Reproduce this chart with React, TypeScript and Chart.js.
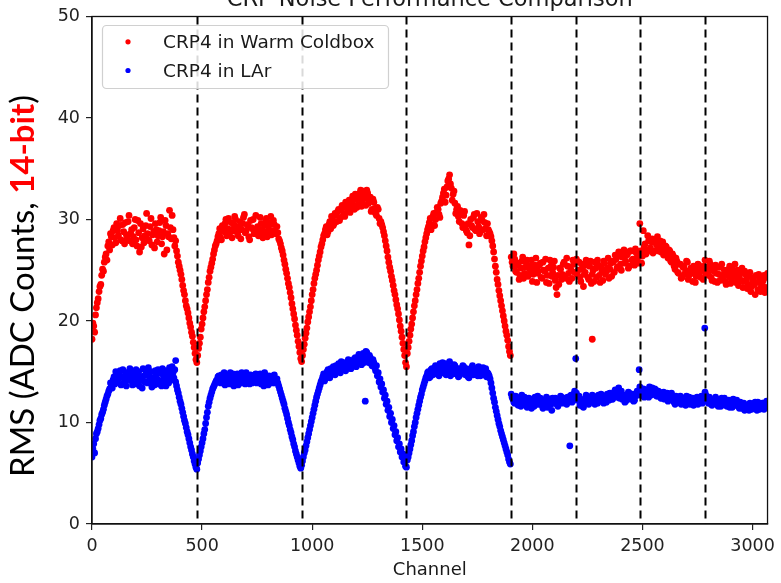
import React, { useEffect, useRef } from 'react';
import { Chart, registerables } from 'chart.js';

Chart.register(...registerables);

// ---- data ----
// readings are listed every 8 channels; "A" arrays start at the segment start,
// "B" arrays hold the readings offset by 4 channels
const CHANNEL_STEP = 8;
const CHANNEL_OFFSET_B = 4;
const segmentStarts = [0, 480, 952, 1432, 1904];

// CRP4 in Warm Coldbox (RMS, ADC counts)
const warmSeg1A = [18.2, 19.5, 20.6, 21.8, 22.9, 23.6, 25.1, 25.8, 26.6, 27.4, 27.0, 28.3, 28.9, 28.2, 29.6, 28.4, 30.1, 27.9, 28.8, 29.7, 28.1, 30.4, 28.6, 27.6, 29.2, 28.0, 29.9, 26.8, 27.3, 29.1, 28.4, 30.6, 28.0, 29.3, 27.5, 28.8, 29.6, 27.8, 28.9, 30.2, 28.3, 26.6, 29.4, 28.6, 30.9, 28.1, 29.0, 27.4, 26.9, 25.8, 25.0, 24.1, 23.0, 22.0, 21.2, 20.3, 19.4, 18.5, 17.4, 16.2];
const warmSeg1B = [19.8, 18.9, 21.3, 22.2, 23.4, 24.5, 24.9, 26.3, 26.0, 27.8, 28.6, 27.5, 29.2, 27.7, 28.9, 29.4, 28.0, 29.5, 27.6, 28.5, 29.8, 27.9, 29.0, 28.3, 30.0, 27.4, 28.7, 29.6, 28.2, 27.7, 29.4, 28.6, 27.9, 30.1, 28.5, 27.2, 29.0, 28.4, 29.7, 27.6, 28.8, 29.9, 27.0, 28.3, 29.2, 30.4, 28.2, 27.9, 26.4, 25.4, 24.6, 23.5, 22.6, 21.5, 20.8, 19.8, 18.9, 17.9, 16.8, 15.9];
const warmSeg2A = [16.6, 17.8, 19.2, 20.3, 21.4, 22.6, 23.8, 24.9, 25.7, 26.6, 27.4, 27.9, 28.6, 28.2, 29.4, 28.8, 30.0, 29.1, 28.5, 29.7, 28.9, 30.3, 29.2, 28.4, 29.8, 29.0, 30.2, 28.7, 29.5, 28.3, 29.9, 29.1, 28.6, 30.4, 29.3, 28.8, 29.6, 28.2, 29.4, 30.1, 28.9, 29.7, 28.5, 29.9, 28.8, 29.3, 28.1, 27.6, 26.9, 26.0, 25.1, 24.2, 23.3, 22.3, 21.2, 20.2, 19.1, 18.0, 16.9];
const warmSeg2B = [17.3, 18.4, 19.7, 20.9, 22.0, 23.1, 24.3, 25.3, 26.1, 27.0, 27.6, 28.3, 29.1, 28.0, 28.9, 29.6, 28.4, 30.1, 29.0, 28.2, 29.5, 30.0, 28.7, 29.3, 28.1, 29.6, 30.5, 28.9, 29.4, 28.0, 29.2, 30.0, 28.7, 29.1, 28.4, 30.2, 29.0, 28.6, 29.8, 28.3, 29.4, 30.3, 28.9, 29.5, 28.6, 28.7, 27.9, 27.2, 26.5, 25.6, 24.7, 23.7, 22.8, 21.7, 20.7, 19.6, 18.6, 17.5, 16.3];
const warmSeg3A = [16.0, 17.2, 18.3, 19.3, 20.4, 21.4, 22.6, 23.7, 24.6, 25.5, 26.4, 27.3, 28.0, 28.6, 29.3, 28.8, 29.8, 30.3, 29.4, 30.6, 29.8, 31.0, 30.2, 31.4, 30.5, 31.7, 30.8, 31.9, 31.2, 32.3, 31.0, 32.0, 31.5, 32.6, 31.3, 32.8, 32.1, 32.9, 31.6, 32.2, 31.0, 31.7, 30.6, 31.2, 30.1, 29.8, 29.2, 28.4, 27.4, 26.3, 25.3, 24.4, 23.5, 22.6, 21.6, 20.7, 19.5, 18.4, 17.2, 15.9];
const warmSeg3B = [16.6, 17.7, 18.8, 19.9, 20.9, 22.0, 23.1, 24.2, 25.0, 26.0, 26.8, 27.6, 28.4, 29.0, 28.5, 29.5, 29.1, 30.0, 29.6, 30.4, 30.8, 29.9, 30.9, 31.2, 30.3, 31.3, 31.6, 30.7, 31.8, 31.4, 32.5, 31.2, 32.1, 32.9, 31.8, 32.4, 31.4, 32.6, 31.9, 30.8, 32.0, 31.1, 30.4, 31.0, 29.6, 29.5, 28.8, 27.9, 26.9, 25.8, 24.9, 24.0, 23.0, 22.1, 21.2, 20.1, 19.0, 17.8, 16.6, 15.5];
const warmSeg4A = [16.8, 18.0, 19.2, 20.3, 21.5, 22.6, 23.7, 24.8, 25.9, 26.9, 27.8, 28.6, 29.3, 30.1, 29.5, 30.6, 30.0, 31.2, 30.5, 31.6, 32.2, 33.0, 32.4, 33.8, 34.4, 33.1, 32.5, 31.6, 31.0, 30.3, 30.9, 29.6, 30.4, 29.3, 28.7, 27.5, 30.0, 29.2, 30.5, 28.9, 29.8, 28.6, 30.2, 29.0, 29.7, 28.4, 29.0, 28.6, 27.9, 26.8, 25.4, 24.1, 23.0, 22.0, 21.0, 20.0, 19.0, 18.1, 17.0];
const warmSeg4B = [17.4, 18.6, 19.7, 20.9, 22.0, 23.1, 24.2, 25.4, 26.4, 27.3, 28.2, 29.0, 29.7, 29.0, 30.3, 29.4, 30.7, 31.0, 30.2, 31.8, 32.6, 31.7, 33.2, 34.0, 33.5, 31.9, 32.8, 30.6, 31.3, 29.8, 30.6, 29.2, 30.8, 28.9, 29.6, 28.4, 29.4, 30.2, 29.0, 30.6, 29.3, 28.8, 29.9, 30.5, 29.1, 29.6, 28.8, 28.3, 27.4, 26.1, 24.8, 23.6, 22.5, 21.5, 20.5, 19.5, 18.6, 17.5, 16.6];
const warmSeg5A = [
  26.3, 25.4, 26.1, 24.8, 25.7, 24.5, 25.9, 24.2, 25.3, 26.0, 24.6, 25.4, 23.9, 25.1, 26.2, 24.7, 25.5, 24.3, 25.8, 24.9, 23.8, 25.2, 26.0, 24.4, 25.3, 24.0, 22.6, 23.6, 25.1, 24.6, 25.8, 24.2, 25.4, 23.9, 25.0, 26.0, 24.8,
  26.1, 25.0, 24.3, 25.6, 23.4, 24.8, 25.5, 24.1, 25.9, 24.6, 23.9, 25.2, 26.0, 24.5, 25.3, 24.0, 25.7, 24.9, 26.2, 25.1, 24.4, 25.8, 26.5, 25.2, 26.8, 25.6, 26.3, 27.0, 25.9, 26.6, 25.4, 26.9, 26.1, 25.5, 26.7, 25.8, 26.4,
  25.7, 26.9, 27.6, 26.8, 27.9, 27.2, 28.1, 26.9, 27.7, 28.3, 27.4, 26.8, 27.8, 26.9, 27.3, 26.2, 26.9, 25.8, 26.4, 25.1, 25.9, 24.7, 25.6, 24.3, 25.4, 24.9, 25.8, 24.5, 25.2, 23.9, 25.0, 24.4, 25.6, 24.8, 25.3, 24.1, 26.0,
  25.2, 24.5, 25.6, 24.0, 24.9, 25.5, 23.8, 24.6, 25.3, 24.2, 25.0, 23.6, 24.8, 25.4, 24.1, 24.9, 25.6, 24.3, 23.5, 24.7, 25.2, 23.9, 24.6, 23.2, 24.4, 22.9, 24.0, 23.6, 24.5, 23.1, 24.2, 23.4, 24.0, 22.8, 24.3
];
const warmSeg5B = [
  25.8, 26.6, 24.9, 25.5, 24.1, 25.2, 26.3, 24.7, 25.8, 24.4, 25.1, 26.0, 24.6, 25.5, 23.8, 24.9, 25.7, 24.2, 25.0, 26.1, 24.5, 23.7, 25.4, 24.8, 25.9, 23.3, 24.5, 25.2, 24.1, 25.6, 24.4, 26.2, 24.7, 25.3, 24.2, 25.6, 25.9,
  24.6, 25.8, 23.9, 25.1, 24.6, 26.0, 24.3, 25.4, 23.7, 25.0, 25.8, 24.3, 25.5, 23.8, 24.9, 25.9, 24.6, 25.2, 24.2, 25.7, 25.9, 24.8, 26.1, 25.3, 26.4, 25.0, 26.8, 25.7, 26.5, 25.2, 26.9, 26.0, 25.6, 27.1, 26.2, 25.7, 26.9,
  26.4, 27.3, 26.6, 28.4, 27.0, 27.8, 26.7, 28.0, 27.5, 26.9, 27.9, 27.1, 26.5, 27.4, 26.6, 27.0, 25.9, 26.6, 25.4, 26.2, 24.8, 25.6, 24.2, 25.3, 24.6, 25.9, 24.1, 25.0, 24.7, 25.4, 23.8, 24.9, 25.5, 24.3, 25.0, 25.4, 24.6,
  24.8, 25.9, 24.3, 25.1, 23.9, 24.7, 25.3, 24.0, 25.6, 24.5, 23.9, 25.0, 24.4, 23.7, 25.2, 24.6, 23.8, 25.0, 24.4, 24.0, 23.3, 24.9, 24.1, 23.6, 24.8, 23.4, 24.3, 22.6, 23.8, 24.6, 22.9, 23.8, 24.5, 23.3, 24.7
];
const warmOutlierChannels = [2272, 2488, 2504];
const warmOutlierValues = [18.2, 29.6, 28.9];

// CRP4 in LAr
const larSeg1A = [6.6, 7.9, 8.4, 9.1, 9.8, 10.4, 11.0, 11.7, 12.3, 12.8, 13.3, 13.7, 14.2, 13.8, 14.7, 14.3, 15.1, 14.5, 13.9, 14.8, 14.2, 15.0, 14.4, 13.7, 14.6, 15.2, 14.1, 13.6, 14.5, 15.3, 14.0, 14.7, 15.4, 14.2, 13.5, 14.4, 15.1, 14.3, 13.8, 14.9, 15.3, 14.0, 13.6, 14.8, 15.4, 14.2, 14.9, 15.2, 13.6, 12.9, 12.1, 11.4, 10.6, 9.9, 9.1, 8.4, 7.6, 6.9, 6.2, 5.6];
const larSeg1B = [7.4, 7.0, 8.9, 9.4, 10.2, 10.8, 11.3, 12.0, 12.6, 13.1, 13.9, 13.4, 14.5, 15.0, 14.0, 14.6, 13.7, 15.2, 14.3, 13.6, 14.7, 15.3, 14.1, 14.9, 13.8, 14.4, 15.0, 14.2, 13.4, 14.6, 15.1, 13.9, 14.5, 15.0, 14.0, 13.7, 14.8, 15.2, 14.1, 13.6, 14.6, 15.1, 14.3, 13.9, 14.8, 15.5, 14.4, 14.0, 13.2, 12.5, 11.8, 11.0, 10.2, 9.5, 8.8, 8.0, 7.3, 6.6, 5.9, 5.4];
const larSeg2A = [6.0, 6.8, 7.6, 8.4, 9.3, 10.5, 11.6, 12.4, 13.0, 13.5, 13.9, 14.2, 14.6, 13.9, 14.4, 14.9, 14.1, 14.6, 13.8, 14.3, 14.8, 14.0, 14.5, 13.7, 14.4, 14.9, 14.2, 13.8, 14.6, 14.1, 14.7, 13.9, 14.4, 14.8, 14.0, 14.5, 13.8, 14.3, 14.9, 14.2, 13.7, 14.5, 14.1, 14.6, 13.9, 14.3, 13.6, 13.0, 12.4, 11.8, 11.1, 10.4, 9.7, 9.0, 8.3, 7.6, 6.9, 6.3, 5.7];
const larSeg2B = [6.4, 7.2, 8.0, 8.9, 9.9, 11.0, 12.0, 12.7, 13.3, 13.7, 14.1, 14.5, 14.0, 14.7, 14.2, 13.7, 14.6, 14.3, 14.9, 14.1, 13.6, 14.4, 14.8, 14.0, 14.6, 13.9, 14.3, 14.9, 14.2, 13.8, 14.5, 14.1, 14.7, 13.9, 14.4, 14.8, 14.2, 13.6, 14.5, 14.0, 14.6, 14.2, 13.9, 14.7, 14.1, 13.9, 13.3, 12.7, 12.1, 11.4, 10.8, 10.0, 9.3, 8.6, 7.9, 7.2, 6.6, 6.0, 5.5];
const larSeg3A = [5.8, 6.6, 7.3, 8.1, 8.9, 9.7, 10.5, 11.3, 12.1, 12.8, 13.4, 14.0, 14.5, 14.1, 14.8, 15.2, 14.4, 15.0, 15.5, 14.7, 15.3, 15.8, 14.9, 15.4, 15.9, 15.1, 15.6, 16.1, 15.3, 15.8, 16.3, 15.5, 16.0, 16.5, 15.7, 16.8, 16.2, 16.9, 15.9, 16.4, 15.6, 15.9, 15.1, 14.6, 14.0, 13.5, 13.0, 12.4, 11.8, 11.2, 10.6, 10.0, 9.4, 8.8, 8.2, 7.6, 7.1, 6.6, 6.1, 5.7];
const larSeg3B = [6.2, 7.0, 7.7, 8.5, 9.3, 10.1, 10.9, 11.7, 12.5, 13.1, 13.7, 14.2, 14.8, 14.3, 15.0, 14.6, 15.3, 14.8, 15.1, 15.6, 15.0, 15.5, 16.0, 15.2, 15.7, 15.4, 16.2, 15.6, 16.1, 15.7, 16.4, 15.8, 16.7, 16.1, 16.6, 15.9, 17.0, 16.3, 16.6, 15.8, 16.2, 15.4, 15.6, 14.9, 14.3, 13.8, 13.2, 12.7, 12.1, 11.5, 10.9, 10.3, 9.7, 9.1, 8.5, 7.9, 7.4, 6.9, 6.3, 5.6];
const larSeg4A = [6.3, 7.0, 7.8, 8.7, 9.6, 10.5, 11.3, 12.1, 12.8, 13.5, 14.1, 14.6, 15.0, 14.5, 15.3, 14.8, 15.6, 15.0, 14.6, 15.4, 15.9, 15.1, 14.7, 15.5, 16.0, 15.2, 14.8, 15.6, 15.0, 14.5, 15.3, 14.9, 15.5, 14.7, 15.2, 14.4, 15.0, 15.6, 14.8, 15.3, 14.6, 15.1, 14.7, 15.4, 14.9, 14.5, 14.8, 14.3, 13.4, 12.4, 11.5, 10.7, 9.9, 9.2, 8.6, 8.0, 7.4, 6.8, 6.1];
const larSeg4B = [6.6, 7.4, 8.2, 9.1, 10.0, 10.9, 11.7, 12.5, 13.2, 13.8, 14.4, 14.9, 14.4, 15.2, 14.7, 15.4, 14.8, 15.3, 15.8, 14.9, 15.4, 15.8, 14.9, 15.4, 14.6, 15.2, 15.7, 14.8, 15.3, 14.6, 15.1, 15.6, 14.8, 15.3, 14.5, 15.0, 15.4, 14.7, 15.2, 14.9, 15.5, 14.6, 15.0, 14.7, 15.3, 14.9, 14.6, 13.9, 12.9, 12.0, 11.1, 10.3, 9.6, 8.9, 8.3, 7.7, 7.1, 6.4, 5.9];
const larSeg5A = [
  12.8, 12.3, 11.9, 12.5, 11.7, 12.2, 12.7, 11.8, 12.1, 11.5, 12.4, 11.9, 12.3, 11.6, 12.0, 12.6, 11.8, 12.2, 11.4, 12.1, 12.5, 11.7, 12.3, 11.2, 12.0, 12.4, 11.8, 12.2, 12.6, 11.9, 12.3, 12.0, 12.5, 12.1, 12.7, 12.3, 13.1,
  12.9, 12.4, 11.7, 12.2, 11.5, 12.0, 12.4, 11.8, 12.3, 12.7, 12.1, 12.5, 11.9, 12.4, 12.8, 12.2, 12.6, 12.0, 12.5, 12.9, 12.3, 12.7, 13.2, 12.6, 13.4, 12.8, 12.3, 12.7, 12.1, 12.6, 12.9, 12.4, 12.8, 12.2, 12.7, 13.0, 13.5,
  12.8, 13.3, 12.7, 13.1, 12.5, 13.0, 13.4, 12.8, 13.2, 12.6, 13.0, 12.4, 12.9, 12.3, 12.7, 12.1, 12.5, 12.9, 12.2, 11.8, 12.4, 12.0, 12.6, 11.9, 12.3, 11.7, 12.2, 12.5, 11.9, 12.4, 12.0, 12.3, 11.8, 12.2, 12.6, 12.1, 13.0,
  12.4, 11.9, 12.3, 11.7, 12.1, 12.5, 11.8, 12.2, 11.6, 12.0, 12.4, 11.7, 12.1, 11.5, 12.0, 12.3, 11.8, 12.2, 11.6, 12.0, 11.4, 11.9, 11.3, 11.7, 11.2, 11.8, 11.4, 11.9, 11.5, 12.0, 11.3, 11.7, 11.9, 11.5, 12.1
];
const larSeg5B = [
  12.5, 12.0, 12.6, 11.8, 12.3, 11.6, 12.2, 12.5, 11.7, 12.3, 12.0, 11.4, 12.2, 12.5, 11.8, 12.1, 12.4, 11.7, 12.2, 11.9, 11.5, 12.3, 11.8, 12.4, 11.9, 12.2, 11.6, 12.1, 12.5, 12.0, 12.4, 11.8, 12.2, 12.6, 12.0, 12.8, 12.6,
  12.2, 12.6, 12.0, 11.6, 12.3, 12.7, 11.9, 12.4, 12.1, 12.6, 11.8, 12.3, 12.7, 12.1, 12.5, 11.9, 12.4, 12.8, 12.2, 12.6, 12.3, 13.0, 12.5, 12.9, 12.4, 13.1, 12.6, 12.0, 12.5, 13.0, 12.3, 12.7, 12.1, 12.6, 13.1, 12.7, 13.2,
  13.0, 12.5, 13.2, 12.8, 13.5, 12.7, 12.9, 13.3, 12.6, 13.1, 12.8, 12.4, 13.0, 12.6, 12.9, 12.3, 12.8, 12.4, 12.0, 12.6, 12.1, 12.5, 11.8, 12.4, 12.0, 12.6, 12.1, 11.8, 12.3, 11.7, 12.2, 12.5, 12.0, 12.4, 11.9, 12.5, 12.7,
  12.1, 12.5, 11.8, 12.2, 11.9, 12.3, 11.6, 12.1, 12.4, 11.8, 12.0, 11.6, 12.2, 11.9, 11.5, 12.1, 11.7, 12.0, 11.4, 11.8, 11.6, 11.2, 11.7, 11.4, 11.9, 11.3, 11.6, 12.0, 11.2, 11.7, 11.5, 11.9, 11.3, 11.8, 11.6
];
const larOutlierChannels = [380, 1241, 2170, 2197, 2485, 2783];
const larOutlierValues = [16.1, 12.1, 7.7, 16.3, 15.2, 19.3];

const boundaryChannels = [476, 952, 1428, 1904, 2196, 2490, 2784];
const xTickValues = [0, 500, 1000, 1500, 2000, 2500, 3000];
const yTickValues = [0, 10, 20, 30, 40, 50];

const titleText = 'CRP Noise Performance Comparison';
const xLabelText = 'Channel';
const yLabelParts = ['RMS (ADC Counts, ', '14-bit', ')'];
const seriesLabels = ['CRP4 in Warm Coldbox', 'CRP4 in LAr'];
const seriesColors = ['#ff0000', '#0000ff'];

function buildPoints(segsA: number[][], segsB: number[][], outCh: number[], outVal: number[]) {
  const pts: { x: number; y: number }[] = [];
  segsA.forEach((seg, k) => {
    seg.forEach((v, j) => pts.push({ x: segmentStarts[k] + j * CHANNEL_STEP, y: v }));
    segsB[k].forEach((v, j) => pts.push({ x: segmentStarts[k] + CHANNEL_OFFSET_B + j * CHANNEL_STEP, y: v }));
  });
  outCh.forEach((c, i) => pts.push({ x: c, y: outVal[i] }));
  return pts;
}

const FONT = '"DejaVu Sans", sans-serif';

const decorPlugin = {
  id: 'decor',
  afterDatasetsDraw(chart: any) {
    const { ctx, chartArea, scales } = chart;
    ctx.save();
    ctx.strokeStyle = '#000';
    ctx.lineWidth = 2;
    ctx.setLineDash([8, 5]);
    boundaryChannels.forEach((b) => {
      const x = Math.round(scales.x.getPixelForValue(b)) + 0.5;
      ctx.beginPath();
      ctx.moveTo(x, chartArea.top);
      ctx.lineTo(x, chartArea.bottom);
      ctx.stroke();
    });
    ctx.restore();
  },
  afterDraw(chart: any) {
    const { ctx, chartArea } = chart;
    ctx.save();
    // frame
    ctx.strokeStyle = '#111';
    ctx.lineWidth = 1.3;
    ctx.strokeRect(chartArea.left, chartArea.top, chartArea.right - chartArea.left, chartArea.bottom - chartArea.top);
    const cx = (chartArea.left + chartArea.right) / 2;
    // title
    ctx.fillStyle = '#1a1a1a';
    ctx.font = `22.5px ${FONT}`;
    ctx.textAlign = 'center';
    ctx.textBaseline = 'alphabetic';
    ctx.fillText(titleText, cx, 5.5);
    // x label
    ctx.font = `18px ${FONT}`;
    ctx.fillText(xLabelText, cx, 575);
    // legend
    const lx = 102, ly = 25, lw = 286, lh = 63;
    ctx.beginPath();
    ctx.roundRect(lx + 0.5, ly + 0.5, lw, lh, 4);
    ctx.fillStyle = 'rgba(255,255,255,0.85)';
    ctx.fill();
    ctx.strokeStyle = '#d0d0d0';
    ctx.lineWidth = 1.2;
    ctx.stroke();
    const rows = [48.3, 77];
    seriesLabels.forEach((lab, i) => {
      ctx.beginPath();
      ctx.fillStyle = seriesColors[i];
      ctx.arc(128, rows[i] - 6.5, 2.6, 0, Math.PI * 2);
      ctx.fill();
      ctx.fillStyle = '#1a1a1a';
      ctx.textAlign = 'left';
      ctx.font = `18.5px ${FONT}`;
      ctx.fillText(lab, 163, rows[i]);
    });
    // y label
    const base = 32;
    const fam = 'Lato, "Open Sans", sans-serif';
    const fN = (s: number) => `${s}px ${fam}`;
    const fB = (s: number) => `bold ${s}px ${fam}`;
    ctx.font = fN(base);
    let w0 = ctx.measureText(yLabelParts[0]).width + ctx.measureText(yLabelParts[2]).width;
    ctx.font = fB(base);
    w0 += ctx.measureText(yLabelParts[1]).width;
    const size = (base * 382) / w0;
    ctx.translate(34, 286);
    ctx.rotate(-Math.PI / 2);
    ctx.textAlign = 'left';
    ctx.textBaseline = 'alphabetic';
    ctx.font = fN(size);
    const wA = ctx.measureText(yLabelParts[0]).width;
    const wC = ctx.measureText(yLabelParts[2]).width;
    ctx.font = fB(size);
    const wB = ctx.measureText(yLabelParts[1]).width;
    let x = -(wA + wB + wC) / 2;
    ctx.font = fN(size);
    ctx.fillStyle = '#000';
    ctx.fillText(yLabelParts[0], x, 0);
    x += wA;
    ctx.font = fB(size);
    ctx.fillStyle = '#ff0000';
    ctx.fillText(yLabelParts[1], x, 0);
    x += wB;
    ctx.font = fN(size);
    ctx.fillStyle = '#000';
    ctx.fillText(yLabelParts[2], x, 0);
    ctx.restore();
  },
};

export default function App() {
  const ref = useRef<HTMLCanvasElement | null>(null);
  useEffect(() => {
    document.body.style.margin = '0';
    const canvas = ref.current!;
    const warm = buildPoints(
      [warmSeg1A, warmSeg2A, warmSeg3A, warmSeg4A, warmSeg5A],
      [warmSeg1B, warmSeg2B, warmSeg3B, warmSeg4B, warmSeg5B],
      warmOutlierChannels, warmOutlierValues);
    const lar = buildPoints(
      [larSeg1A, larSeg2A, larSeg3A, larSeg4A, larSeg5A],
      [larSeg1B, larSeg2B, larSeg3B, larSeg4B, larSeg5B],
      larOutlierChannels, larOutlierValues);
    const tickFont = { family: FONT, size: 17.5 };
    const plain = (v: any) => String(v);
    const chart = new Chart(canvas, {
      type: 'scatter',
      data: {
        datasets: [
          { label: seriesLabels[0], data: warm, backgroundColor: seriesColors[0], borderWidth: 0, pointRadius: 3.4, pointHoverRadius: 3.4 },
          { label: seriesLabels[1], data: lar, backgroundColor: seriesColors[1], borderWidth: 0, pointRadius: 3.4, pointHoverRadius: 3.4 },
        ],
      },
      options: {
        responsive: false,
        animation: false,
        events: [],
        layout: { padding: { top: 15, right: 8, left: 0, bottom: 0 } },
        plugins: { legend: { display: false }, title: { display: false }, tooltip: { enabled: false } },
        scales: {
          x: {
            type: 'linear',
            min: 0,
            max: 3068,
            afterBuildTicks: (s: any) => { s.ticks = xTickValues.map((v) => ({ value: v })); },
            afterFit: (s: any) => { s.height = 59; },
            ticks: { font: tickFont, color: '#222', padding: 6, maxRotation: 0, autoSkip: false, callback: plain },
            grid: { drawOnChartArea: false, drawTicks: true, tickLength: 6, color: '#222', lineWidth: 1.2 },
            border: { display: true, color: '#111', width: 1.3 },
          },
          y: {
            min: 0,
            max: 50,
            afterBuildTicks: (s: any) => { s.ticks = yTickValues.map((v) => ({ value: v })); },
            afterFit: (s: any) => { s.width = 92; },
            ticks: { font: tickFont, color: '#222', padding: 6, callback: plain },
            grid: { drawOnChartArea: false, drawTicks: true, tickLength: 6, color: '#222', lineWidth: 1.2 },
            border: { display: true, color: '#111', width: 1.3 },
          },
        },
      },
      plugins: [decorPlugin],
    } as any);
    return () => chart.destroy();
  }, []);
  return <canvas ref={ref} width={781} height={583} style={{ display: 'block' }} />;
}
